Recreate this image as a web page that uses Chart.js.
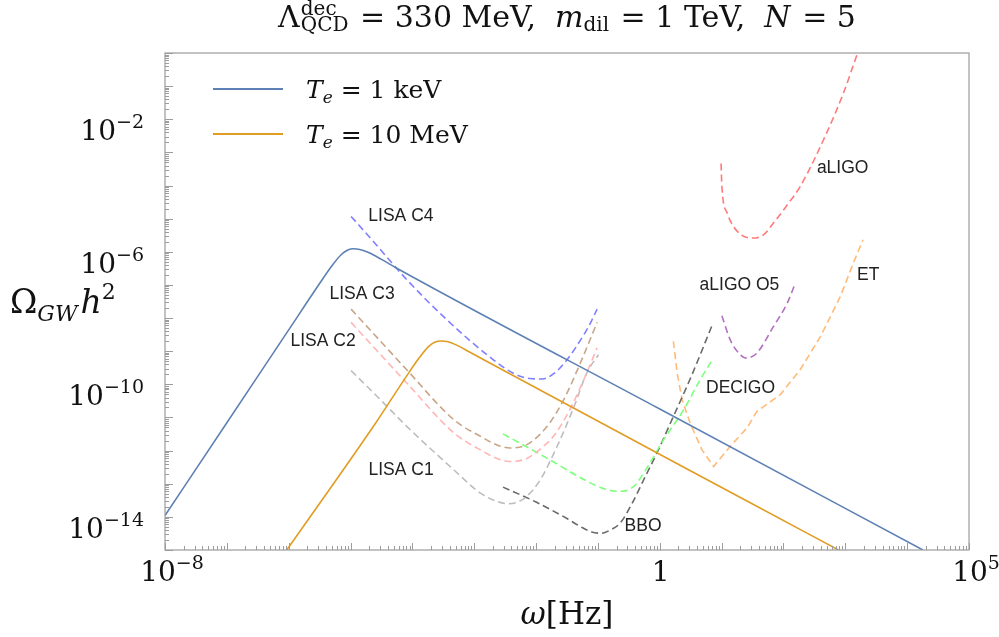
<!DOCTYPE html>
<html><head><meta charset="utf-8">
<script src="https://cdn.jsdelivr.net/npm/chart.js@4.4.0/dist/chart.umd.min.js"></script>
<style>html,body{margin:0;padding:0;background:#fff;}</style>
</head><body>
<canvas id="c" width="999" height="637"></canvas>
<script>
// ---- data ----
const keV_x = [1e-8, 1e-7, 1e-6, 3.16e-6, 5.0e-6, 7.1e-6, 8.9e-6, 1.12e-5, 1.41e-5, 2.0e-5, 3.16e-5, 5.6e-5, 1, 1.8e4];
const keV_y = [1.1e-14, 6.9e-12, 4.4e-9, 1.1e-7, 3.8e-7, 8.3e-7, 1.12e-6, 1.23e-6, 1.17e-6, 9.3e-7, 5.9e-7, 3.2e-7, 1.8e-11, 1e-15];

const MeV_x = [9.3e-7, 2.6e-5, 8.1e-5, 1.29e-4, 1.82e-4, 2.29e-4, 2.88e-4, 3.63e-4, 5.1e-4, 8.1e-4, 1.45e-3, 25.7, 776];
const MeV_y = [1e-15, 7.2e-12, 1.8e-10, 6.3e-10, 1.38e-9, 1.86e-9, 2.04e-9, 1.95e-9, 1.55e-9, 9.8e-10, 5.4e-10, 3.0e-14, 1e-15];

const lisaC4_x = [1.02e-5, 2.34e-5, 8.1e-5, 3.6e-4, 2.04e-3, 4.4e-3, 7.9e-3, 1.26e-2, 2.0e-2, 3.16e-2, 5.0e-2, 7.1e-2, 9.7e-2];
const lisaC4_y = [1.17e-5, 2.04e-6, 1.45e-7, 8.9e-9, 5.5e-10, 2.1e-10, 1.5e-10, 1.45e-10, 2.2e-10, 5.5e-10, 1.9e-9, 5.6e-9, 1.86e-8];

const lisaC3_x = [1.02e-5, 3.16e-5, 8.1e-5, 4.7e-4, 1.26e-3, 2.5e-3, 3.8e-3, 7.1e-3, 1.51e-2, 2.79e-2, 5.2e-2, 9.7e-2];
const lisaC3_y = [1.86e-8, 1.86e-9, 2.75e-10, 8.5e-12, 2.7e-12, 1.41e-12, 1.2e-12, 1.51e-12, 5.4e-12, 3.4e-11, 4.4e-10, 7.4e-9];

const lisaC2_x = [1.02e-5, 3.16e-5, 8.1e-5, 4.7e-4, 1.26e-3, 2.5e-3, 3.8e-3, 7.1e-3, 1.26e-2, 1.91e-2, 3.55e-2, 5.9e-2, 9.7e-2];
const lisaC2_y = [7.4e-9, 7.4e-10, 1.1e-10, 3.4e-12, 1.05e-12, 5.5e-13, 4.7e-13, 5.8e-13, 1.26e-12, 2.7e-12, 1.78e-11, 1.38e-10, 1.26e-9];

const lisaC1_x = [1.02e-5, 3.16e-5, 8.1e-5, 4.7e-4, 1.26e-3, 2.5e-3, 3.55e-3, 5.0e-3, 7.1e-3, 1.17e-2, 2.19e-2, 4.1e-2, 6.6e-2, 0.102];
const lisaC1_y = [2.6e-10, 3.2e-11, 5.4e-12, 2.6e-13, 5.2e-14, 2.8e-14, 2.5e-14, 2.8e-14, 4.2e-14, 1.32e-13, 1.35e-12, 2.1e-11, 2.2e-10, 7.8e-10];

const decigo_x = [2.92e-3, 1.58e-2, 6.3e-2, 0.126, 0.229, 0.38, 0.62, 1.15, 2.43, 4.5, 7.2];
const decigo_y = [3.2e-12, 5.6e-13, 1.26e-13, 7.1e-14, 5.9e-14, 8.3e-14, 3.0e-13, 2.1e-12, 1.7e-11, 1.38e-10, 5.8e-10];

const bbo_x = [2.92e-3, 1e-2, 3.16e-2, 5.2e-2, 7.9e-2, 0.112, 0.158, 0.229, 0.355, 0.55, 0.90, 1.66, 3.16, 6.98];
const bbo_y = [7.9e-14, 2.8e-14, 8.9e-15, 5.1e-15, 3.5e-15, 3.2e-15, 4.0e-15, 6.5e-15, 2.5e-14, 1.32e-13, 8.5e-13, 1.07e-11, 1.58e-10, 5.9e-9];

const et_x = [1.66, 1.91, 2.29, 3.09, 4.8, 7.4, 13.8, 25.7, 37, 89, 186, 398, 832, 1350, 1930];
const et_y = [2.0e-9, 2.2e-10, 3.5e-11, 6.8e-12, 1.07e-12, 3.3e-13, 1.35e-12, 4.8e-12, 1.51e-11, 4.9e-11, 2.75e-10, 2.8e-9, 4.5e-8, 4.6e-7, 2.3e-6];

const aligoO5_x = [10.1, 13.8, 20, 25, 37, 69, 115, 150];
const aligoO5_y = [1.17e-8, 2.2e-9, 7.8e-10, 6.2e-10, 8.7e-10, 5.6e-9, 2.8e-8, 9.5e-8];

const aligo_x = [9.8, 10.1, 12.3, 17.8, 31, 48, 69, 115, 186, 500, 933, 1580];
const aligo_y = [4.6e-4, 9.3e-5, 1.48e-5, 4.2e-6, 2.6e-6, 3.3e-6, 7.4e-6, 2.6e-5, 9.3e-5, 3.9e-3, 6.2e-2, 1];

// curve labels: text and anchor (data coordinates, left / middle)
const curveLabels = ['LISA C4', 'LISA C3', 'LISA C2', 'LISA C1', 'BBO', 'DECIGO', 'aLIGO O5', 'ET', 'aLIGO'];
const curveLabel_x = [1.94e-5, 4.57e-6, 1.07e-6, 1.95e-5, 0.27, 5.6, 4.4, 1550, 347];
const curveLabel_y = [1.23e-5, 5.4e-8, 2.0e-9, 2.6e-13, 5.1e-15, 7.8e-11, 1.0e-7, 2.0e-7, 3.4e-4];

// axis ticks
const xTickValues = [1e-8, 1, 1e5];
const xTickText = ['10^\u22128', '1', '10^5'];
const yTickValues = [1e-2, 1e-6, 1e-10, 1e-14];
const yTickText = ['10^\u22122', '10^\u22126', '10^\u221210', '10^\u221214'];

// ---- build ----
const pts = (xs, ys) => xs.map((x, i) => ({x: x, y: ys[i]}));
const SERIF = '"DejaVu Serif", serif';
const solid = (label, xs, ys, color) => ({label, data: pts(xs, ys), borderColor: color, borderWidth: 1.6,
  pointRadius: 0, showLine: true, fill: false, cubicInterpolationMode: 'monotone'});
const dashed = (label, xs, ys, color, smooth) => ({label, data: pts(xs, ys), borderColor: color, borderWidth: 1.6,
  borderDash: [7, 4], pointRadius: 0, showLine: true, fill: false,
  cubicInterpolationMode: smooth ? 'monotone' : 'default', tension: 0});

const datasets = [
  solid('T_e = 1 keV', keV_x, keV_y, '#5e81b5'),
  solid('T_e = 10 MeV', MeV_x, MeV_y, '#e19c24'),
  dashed('LISA C4', lisaC4_x, lisaC4_y, '#7f7fff', true),
  dashed('LISA C3', lisaC3_x, lisaC3_y, '#c8a688', true),
  dashed('LISA C2', lisaC2_x, lisaC2_y, '#ffb6b6', true),
  dashed('LISA C1', lisaC1_x, lisaC1_y, '#bdbdbd', true),
  dashed('DECIGO', decigo_x, decigo_y, '#7cff7c', true),
  dashed('BBO', bbo_x, bbo_y, '#6a6a6a', true),
  dashed('ET', et_x, et_y, '#ffbb7a', false),
  dashed('aLIGO O5', aligoO5_x, aligoO5_y, '#b36fc3', true),
  dashed('aLIGO', aligo_x, aligo_y, '#ff7a7a', true)
];

function drawRuns(ctx, runs, x, y, align) {
  let w = 0;
  const ws = runs.map(r => {
    let rw;
    if (r.stack) { rw = Math.max(...r.stack.map(s => { ctx.font = s.f; return ctx.measureText(s.t).width; })); }
    else { ctx.font = r.f; rw = ctx.measureText(r.t).width; }
    rw += (r.sp || 0);
    w += rw; return rw;
  });
  let cx = align === 'center' ? x - w / 2 : align === 'right' ? x - w : x;
  ctx.textAlign = 'left'; ctx.textBaseline = 'alphabetic';
  runs.forEach((r, i) => {
    if (r.stack) r.stack.forEach(s => { ctx.font = s.f; ctx.fillText(s.t, cx, y + (s.dy || 0)); });
    else { ctx.font = r.f; ctx.fillText(r.t, cx, y + (r.dy || 0)); }
    cx += ws[i];
  });
  return w;
}
function powRuns(text, big, small, raise) {
  const p = text.split('^');
  const runs = [{t: p[0], f: big}];
  if (p[1]) runs.push({t: p[1], f: small, dy: -raise});
  return runs;
}

const deco = {
  id: 'deco',
  afterDraw(chart) {
    const ctx = chart.ctx, a = chart.chartArea, xs = chart.scales.x, ys = chart.scales.y;
    ctx.save();
    // frame
    ctx.strokeStyle = '#9c9c9c'; ctx.lineWidth = 1.2;
    ctx.strokeRect(a.left, a.top, a.right - a.left, a.bottom - a.top);
    // ticks (inward, bottom and left only)
    ctx.lineWidth = 1; ctx.strokeStyle = '#9c9c9c';
    for (let d = -8; d <= 5; d++) {
      for (let k = 1; k <= 9; k++) {
        const v = k * Math.pow(10, d);
        if (v > 1.0001e5) break;
        const px = Math.round(xs.getPixelForValue(v)) + 0.5;
        const len = k === 1 ? 7 : 4;
        ctx.beginPath(); ctx.moveTo(px, a.bottom); ctx.lineTo(px, a.bottom - len); ctx.stroke();
      }
    }
    for (let d = -15; d <= 0; d++) {
      for (let k = 1; k <= 9; k++) {
        const v = k * Math.pow(10, d);
        if (v > 1.0001) break;
        const py = Math.round(ys.getPixelForValue(v)) + 0.5;
        const len = k === 1 ? 8 : 4;
        ctx.beginPath(); ctx.moveTo(a.left, py); ctx.lineTo(a.left + len, py); ctx.stroke();
      }
    }
    ctx.fillStyle = '#111';
    const big = '28px ' + SERIF, small = '19px ' + SERIF;
    // x tick labels
    xTickValues.forEach((v, i) => {
      const px = xs.getPixelForValue(v);
      const hasSup = xTickText[i].indexOf('^') >= 0;
      drawRuns(ctx, powRuns(xTickText[i], big, small, 12), px + (hasSup ? 7 : 1), 581, 'center');
    });
    // y tick labels
    yTickValues.forEach((v, i) => {
      const py = ys.getPixelForValue(v);
      drawRuns(ctx, powRuns(yTickText[i], big, small, 12), 144, py + 21, 'right');
    });
    // axis titles
    drawRuns(ctx, [{t: '\u03c9', f: 'italic 31px ' + SERIF}, {t: '[Hz]', f: '31px ' + SERIF}],
      (a.left + a.right) / 2, 624, 'center');
    drawRuns(ctx, [{t: '\u03a9', f: '33px ' + SERIF}, {t: 'GW', f: 'italic 22px ' + SERIF, dy: 8, sp: 3},
      {t: 'h', f: 'italic 33px ' + SERIF}, {t: '2', f: '22px ' + SERIF, dy: -14}], 10, 313, 'left');
    // title
    const tf = '30px ' + SERIF, tfi = 'italic 30px ' + SERIF, ts = '20px ' + SERIF;
    drawRuns(ctx, [
      {t: '\u039b', f: tf, sp: 1},
      {stack: [{t: 'dec', f: ts, dy: -12}, {t: 'QCD', f: ts, dy: 4}], sp: 2},
      {t: ' = 330 MeV,  ', f: tf},
      {t: 'm', f: tfi},
      {t: 'dil', f: ts, dy: 4, sp: 2},
      {t: ' = 1 TeV,  ', f: tf},
      {t: 'N', f: tfi, sp: 2},
      {t: ' = 5', f: tf}
    ], (a.left + a.right) / 2, 27, 'center');
    // legend
    const legY = [89, 134], legText = [' = 1 keV', ' = 10 MeV'];
    [0, 1].forEach(i => {
      ctx.strokeStyle = chart.data.datasets[i].borderColor; ctx.lineWidth = 1.8;
      ctx.beginPath(); ctx.moveTo(213, legY[i]); ctx.lineTo(283, legY[i]); ctx.stroke();
      drawRuns(ctx, [{t: 'T', f: 'italic 25px ' + SERIF}, {t: 'e', f: 'italic 17px ' + SERIF, dy: 5},
        {t: legText[i], f: '25px ' + SERIF}], 306, legY[i] + 9, 'left');
    });
    // curve labels
    ctx.fillStyle = '#222'; ctx.font = '17.5px "Liberation Sans", Arial, sans-serif';
    ctx.textAlign = 'left'; ctx.textBaseline = 'middle';
    curveLabels.forEach((t, i) => {
      ctx.fillText(t, xs.getPixelForValue(curveLabel_x[i]), ys.getPixelForValue(curveLabel_y[i]));
    });
    ctx.restore();
  }
};

new Chart(document.getElementById('c'), {
  type: 'scatter',
  data: {datasets},
  options: {
    responsive: false, animation: false, devicePixelRatio: 1,
    layout: {padding: {left: 165, top: 53, right: 30, bottom: 87}},
    plugins: {legend: {display: false}, tooltip: {enabled: false}, title: {display: false}},
    scales: {
      x: {type: 'logarithmic', min: 1e-8, max: 1e5, display: false},
      y: {type: 'logarithmic', min: 1e-15, max: 1, display: false}
    }
  },
  plugins: [deco]
});
</script>
</body></html>
